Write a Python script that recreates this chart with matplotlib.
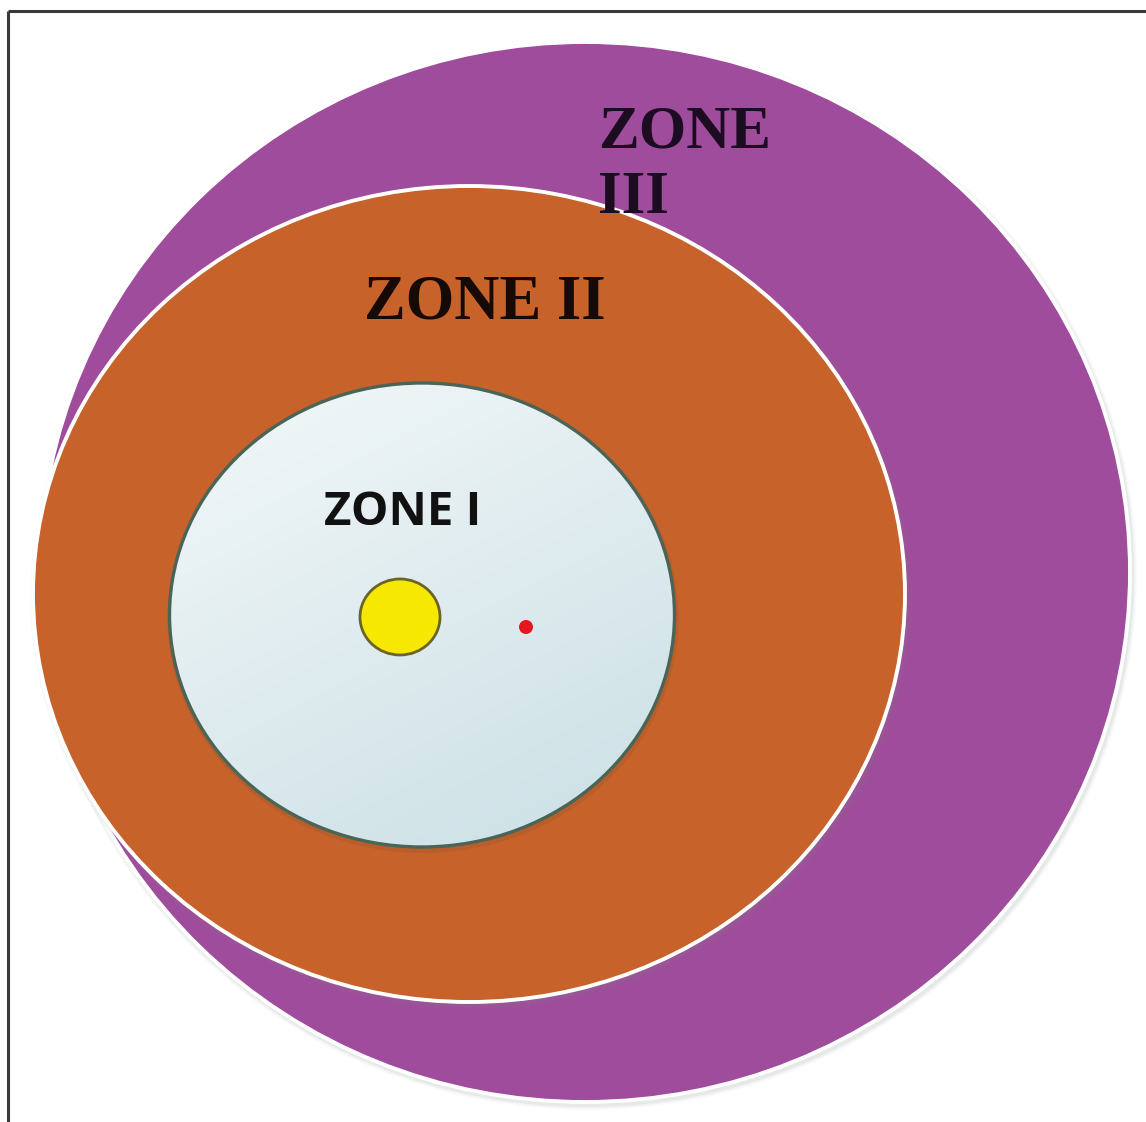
import matplotlib.pyplot as plt
import numpy as np
from matplotlib.patches import Ellipse

# Zone geometry (pixel coordinates of the original diagram)
zone_names = ['ZONE III', 'ZONE II', 'ZONE I']
zone_cx = [585, 469, 422]
zone_cy = [572, 594, 615]
zone_w = [1090, 872, 505]
zone_h = [1060, 816, 464]
zone_colors = ['#a04c9c', '#c6622a', None]

# Small markers inside zone I
sun_xy = (400, 617)
sun_size = (80, 76)
dot_xy = (526, 627)

W, H = 1146, 1122
fig = plt.figure(figsize=(W / 100, H / 100), dpi=100)
ax = fig.add_axes([0, 0, 1, 1])
ax.set_xlim(0, W)
ax.set_ylim(H, 0)
ax.set_aspect('equal')
ax.axis('off')

# Frame (only top and left sides visible)
ax.plot([8, W], [11, 11], color='#3a3a3a', lw=2.2, solid_capstyle='butt')
ax.plot([8, 8], [11, H], color='#3a3a3a', lw=2.2, solid_capstyle='butt')

# Purple and orange zones with soft shadow and white rim
for i in range(2):
    cx, cy, w, h = zone_cx[i], zone_cy[i], zone_w[i], zone_h[i]
    for k, a in [(10, 0.04), (7, 0.06), (4, 0.09)]:
        ax.add_patch(Ellipse((cx + 2, cy + 3), w + k, h + k, facecolor='#7a8a80',
                             edgecolor='none', alpha=a))
    ax.add_patch(Ellipse((cx, cy), w, h, facecolor=zone_colors[i],
                         edgecolor='white', lw=2.8))

# Zone I: gradient fill clipped to ellipse
cx, cy, w, h = zone_cx[2], zone_cy[2], zone_w[2], zone_h[2]
ax.add_patch(Ellipse((cx + 1, cy + 3), w + 6, h + 6, facecolor='#6b4a2a',
                     edgecolor='none', alpha=0.15))
gx, gy = np.meshgrid(np.linspace(0, 1, 200), np.linspace(0, 1, 200))
t = np.clip(0.45 * gx + 0.8 * gy, 0, 1.25) / 1.25
c0 = np.array([0.955, 0.972, 0.978])
c1 = np.array([0.79, 0.875, 0.895])
img = c0 + (c1 - c0) * t[..., None]
im = ax.imshow(img, extent=[cx - w / 2, cx + w / 2, cy + h / 2, cy - h / 2],
               zorder=3, interpolation='bilinear')
clip = Ellipse((cx, cy), w, h, transform=ax.transData)
im.set_clip_path(clip)
ax.add_patch(Ellipse((cx, cy), w, h, facecolor='none', edgecolor='#4a6458',
                     lw=2.4, zorder=4))

# Sun and red dot
ax.add_patch(Ellipse(sun_xy, sun_size[0], sun_size[1], facecolor='#f6e800',
                     edgecolor='#6b6428', lw=2, zorder=5))
ax.add_patch(Ellipse(dot_xy, 14, 14, facecolor='#e8141e', edgecolor='none', zorder=5))

# Labels
ax.text(598, 147, 'ZONE', family='Liberation Serif', fontweight='bold',
        fontsize=44, color='#1c0c22', ha='left', va='baseline', zorder=6)
ax.text(598, 213, 'III', family='Liberation Serif', fontweight='bold',
        fontsize=44, color='#1c0c22', ha='left', va='baseline', zorder=6)
ax.text(364, 318, zone_names[1], family='Liberation Serif', fontweight='bold',
        fontsize=45, color='#150a05', ha='left', va='baseline', zorder=6)
ax.text(324, 525, zone_names[2], family='Open Sans', fontweight='bold',
        fontsize=34, color='#111111', ha='left', va='baseline', zorder=6)

fig.savefig('out.png', dpi=100)
